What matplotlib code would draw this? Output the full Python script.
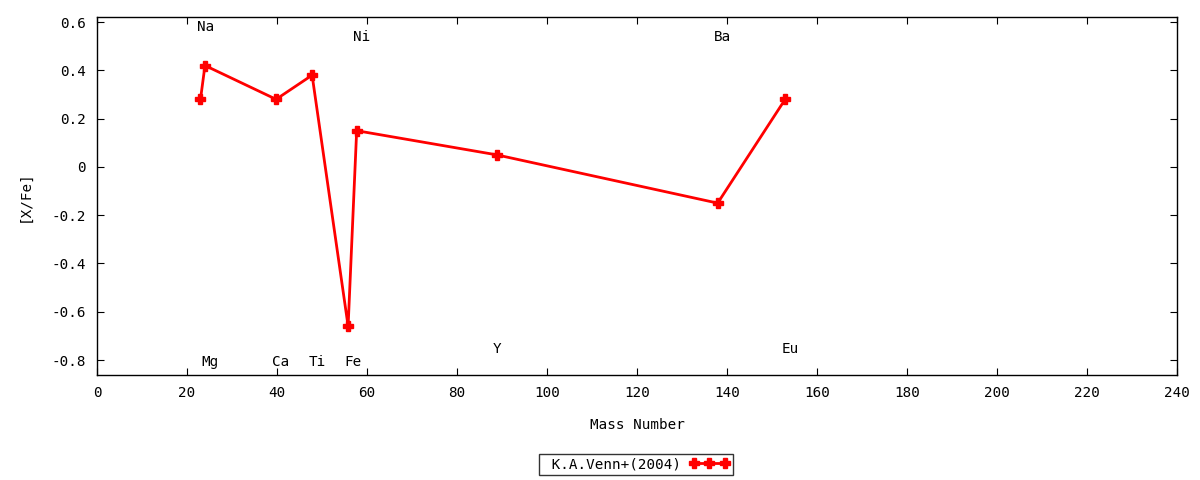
import matplotlib
matplotlib.use('Agg')
import matplotlib.pyplot as plt

# abundance data: mass number vs [X/Fe]
elements = ['Na', 'Mg', 'Ca', 'Ti', 'Fe', 'Ni', 'Y', 'Ba', 'Eu']
mass = [23, 24, 39.8, 47.8, 55.8, 57.7, 88.8, 137.9, 152.9]
xfe = [0.28, 0.42, 0.28, 0.38, -0.66, 0.15, 0.05, -0.15, 0.28]
label_y = [0.58, -0.81, -0.81, -0.81, -0.81, 0.54, -0.755, 0.54, -0.755]

plt.rcParams['font.family'] = ['DejaVu Sans Mono']
plt.rcParams['font.size'] = 10.3

fig = plt.figure(figsize=(12, 4.8), dpi=100)
ax = fig.add_axes([0.0808, 0.2188, 0.9002, 0.7458])

ax.plot(mass, xfe, color='red', lw=2, marker='P', markersize=7.5,
        label='K.A.Venn+(2004)')

# element names next to the points
for el, m, ly in zip(elements, mass, label_y):
    ax.text(m - 0.8, ly, el, ha='left', va='center')

ax.set_xlim(0, 240)
ax.set_ylim(-0.862, 0.621)
ax.set_xticks(range(0, 241, 20))
ax.set_yticks([0.6, 0.4, 0.2, 0, -0.2, -0.4, -0.6, -0.8])
ax.set_yticklabels(['0.6', '0.4', '0.2', '0', '-0.2', '-0.4', '-0.6', '-0.8'])
ax.tick_params(direction='in', length=5, width=0.8, top=True, right=True, pad=8)
for s in ax.spines.values():
    s.set_linewidth(1)

ax.set_xlabel('Mass Number', labelpad=13)
ax.set_ylabel('[X/Fe]', labelpad=14)

leg = fig.legend(loc='center', bbox_to_anchor=(0.53, 0.033), frameon=True,
                 fancybox=False, edgecolor='black', numpoints=3, markerfirst=False,
                 handlelength=2.8, borderpad=0.25, handletextpad=0.6, borderaxespad=0)
leg.get_frame().set_linewidth(1)
leg.texts[0].set_text(' K.A.Venn+(2004)')

fig.savefig('out.png', dpi=100)
